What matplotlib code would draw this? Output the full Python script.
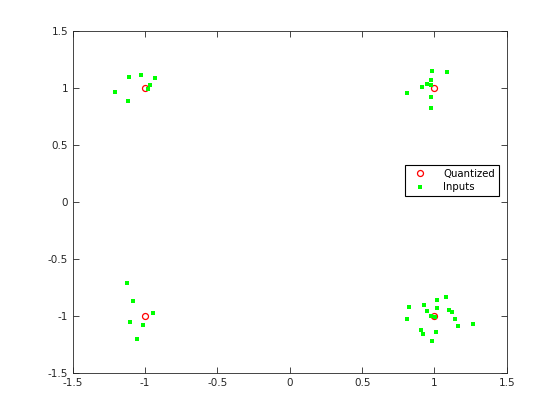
import matplotlib
matplotlib.use("Agg")
import matplotlib.pyplot as plt
import numpy as np

plt.rcParams['font.family'] = ['DejaVu Sans']

quant_x = [-1, 1, -1, 1]
quant_y = [1, 1, -1, -1]

inputs_x = [-1.109, -1.026, -0.929, -0.968, -0.977, -1.205, -1.116,
            0.981, 1.085, 0.974, 0.947, 0.912, 0.979, 0.808, 0.974, 0.974,
            -1.122, -1.081, -0.949, -1.104, -1.012, -1.053,
            1.078, 1.016, 0.926, 0.822, 1.016, 0.945, 1.101, 1.118, 0.977,
            1.002, 0.808, 1.141, 1.161, 1.265, 0.905, 0.919, 1.009, 0.981]
inputs_y = [1.096, 1.111, 1.085, 1.024, 0.991, 0.962, 0.883,
            1.146, 1.138, 1.067, 1.032, 1.012, 1.023, 0.956, 0.918, 0.822,
            -0.713, -0.871, -0.977, -1.055, -1.079, -1.204,
            -0.836, -0.862, -0.906, -0.924, -0.933, -0.956, -0.950, -0.968, -1.003,
            -1.011, -1.026, -1.029, -1.088, -1.073, -1.123, -1.161, -1.143, -1.222]

xticks = [-1.5, -1, -0.5, 0, 0.5, 1, 1.5]
yticks = [-1.5, -1, -0.5, 0, 0.5, 1, 1.5]

fig = plt.figure(figsize=(5.6, 4.2), dpi=100)
ax = fig.add_axes([0.13, 0.112, 0.775, 0.814])
ax.plot(quant_x, quant_y, linestyle='none', marker='o', markersize=4.3,
        markerfacecolor='none', markeredgecolor='red', markeredgewidth=0.9, label='Quantized')
ax.plot(inputs_x, inputs_y, linestyle='none', marker='s', markersize=2.7,
        markerfacecolor='#00ff00', markeredgecolor='#00ff00', markeredgewidth=0, label='Inputs')
ax.set_xlim(-1.5, 1.5)
ax.set_ylim(-1.5, 1.5)
ax.set_xticks(xticks)
ax.set_yticks(yticks)
ax.set_xticklabels([('%g' % t) for t in xticks])
ax.set_yticklabels([('%g' % t) for t in yticks])
ax.tick_params(direction='in', top=True, right=True, labelsize=7.5, length=4, width=0.6, colors='#262626')
for s in ax.spines.values():
    s.set_linewidth(0.6)
    s.set_color('#262626')
leg = ax.legend(loc='center', bbox_to_anchor=(0.873, 0.563), fontsize=7.3, frameon=True,
                fancybox=False, edgecolor='black', framealpha=1, borderpad=0.4,
                handletextpad=1.1, labelspacing=0.35, handlelength=2.3)
leg.get_frame().set_linewidth(0.8)
fig.savefig('out.png', dpi=100)
